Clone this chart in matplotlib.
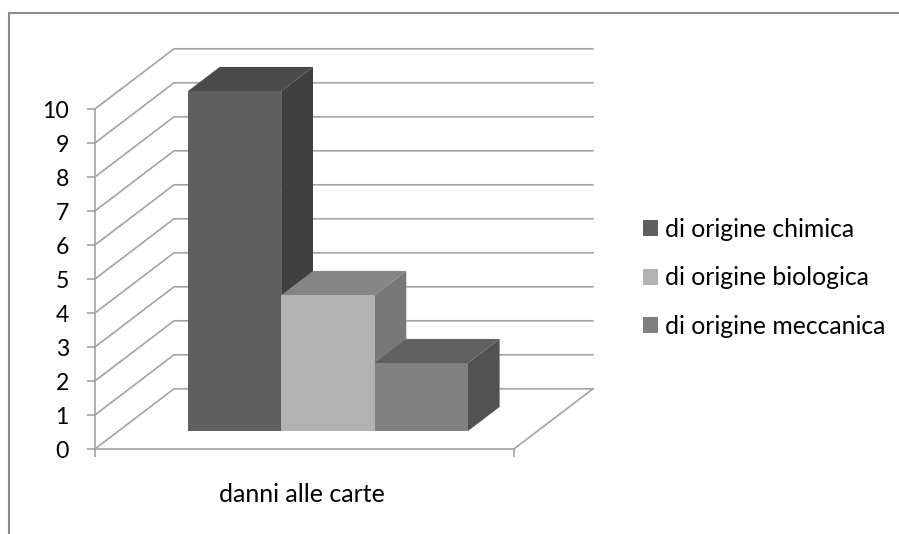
import matplotlib
matplotlib.use("Agg")
import matplotlib.pyplot as plt
from matplotlib.patches import Polygon, Patch
from matplotlib.lines import Line2D

plt.rcParams['font.family'] = ['Lato', 'DejaVu Sans']

category = "danni alle carte"
series = ["di origine chimica", "di origine biologica", "di origine meccanica"]
values = [10, 4, 2]
front = ["#5f5f5f", "#b2b2b2", "#808080"]
top = ["#4a4a4a", "#858585", "#606060"]
side = ["#404040", "#787878", "#525252"]
yticks = list(range(11))

W, H = 899, 534
GRID = "#a3a3a3"
X0, X1, Y0, Y10 = 94.5, 513.5, 449.3, 109.3
DX = 79.5 / (X1 - X0)      # wall depth in x data units
DY = 60.5 / ((Y0 - Y10) / 10)  # wall depth in y data units

fig = plt.figure(figsize=(W / 100, H / 100), dpi=100, facecolor="white")
ax = fig.add_axes([X0 / W, 1 - Y0 / H, (X1 - X0) / W, (Y0 - Y10) / H])
ax.set_xlim(0, 1)
ax.set_ylim(0, 10)
ax.patch.set_visible(False)


def P(x, v, d):
    return (x + d * DX, v + d * DY)


# walls
for v in yticks:
    ax.plot(*zip(P(0, v, 0), P(0, v, 1), P(1, v, 1)), color=GRID, lw=1.2,
            clip_on=False, zorder=1, solid_joinstyle="miter")
ax.plot(*zip(P(1, 0, 0), P(1, 0, 1)), color=GRID, lw=1.2, clip_on=False, zorder=1)

# bars
bw = 93.3 / (X1 - X0)
D_FRONT, D_BACK = 0.3, 0.7
n = len(values)
start = (1 - n * bw) / 2
for i, v in enumerate(values):
    a, b = start + i * bw, start + (i + 1) * bw
    ax.add_patch(Polygon([P(b, 0, D_FRONT), P(b, 0, D_BACK), P(b, v, D_BACK), P(b, v, D_FRONT)],
                         fc=side[i], ec="none", clip_on=False, zorder=3 + i))
    ax.add_patch(Polygon([P(a, v, D_FRONT), P(b, v, D_FRONT), P(b, v, D_BACK), P(a, v, D_BACK)],
                         fc=top[i], ec="none", clip_on=False, zorder=3 + i))
    ax.add_patch(Polygon([P(a, 0, D_FRONT), P(b, 0, D_FRONT), P(b, v, D_FRONT), P(a, v, D_FRONT)],
                         fc=front[i], ec="none", clip_on=False, zorder=3 + i))

# axes
for s in ("top", "right"):
    ax.spines[s].set_visible(False)
for s in ("left", "bottom"):
    ax.spines[s].set_color(GRID)
    ax.spines[s].set_linewidth(1.2)
ax.set_yticks(yticks)
ax.set_xticks([0, 1])
ax.set_xticklabels(["", ""])
ax.tick_params(axis="y", length=6, width=1.2, color=GRID, labelsize=16.6, pad=12.5, labelcolor="black")
ax.tick_params(axis="x", length=6, width=1.2, color=GRID)
ax.set_xticks([0.495], minor=True)
ax.set_xticklabels([category], minor=True, fontsize=18)
ax.tick_params(axis="x", which="minor", length=0, pad=24)

# legend
handles = [Patch(fc=c, ec="none") for c in front]
leg = ax.legend(handles, series, loc="upper left", frameon=False,
                bbox_to_anchor=(643 / W, 1 - 218 / H), bbox_transform=fig.transFigure,
                fontsize=17.8, handlelength=0.6, handleheight=0.6, handletextpad=0.28,
                labelspacing=1.03, borderpad=0, borderaxespad=0)

# chart frame, open at the right and bottom
fig.add_artist(Line2D([8.5 / W, 8.5 / W, 1], [0, 1 - 12.5 / H, 1 - 12.5 / H],
                      color="#8c8c8c", lw=1.5, solid_joinstyle="miter"))

fig.savefig("out.png", dpi=100)
